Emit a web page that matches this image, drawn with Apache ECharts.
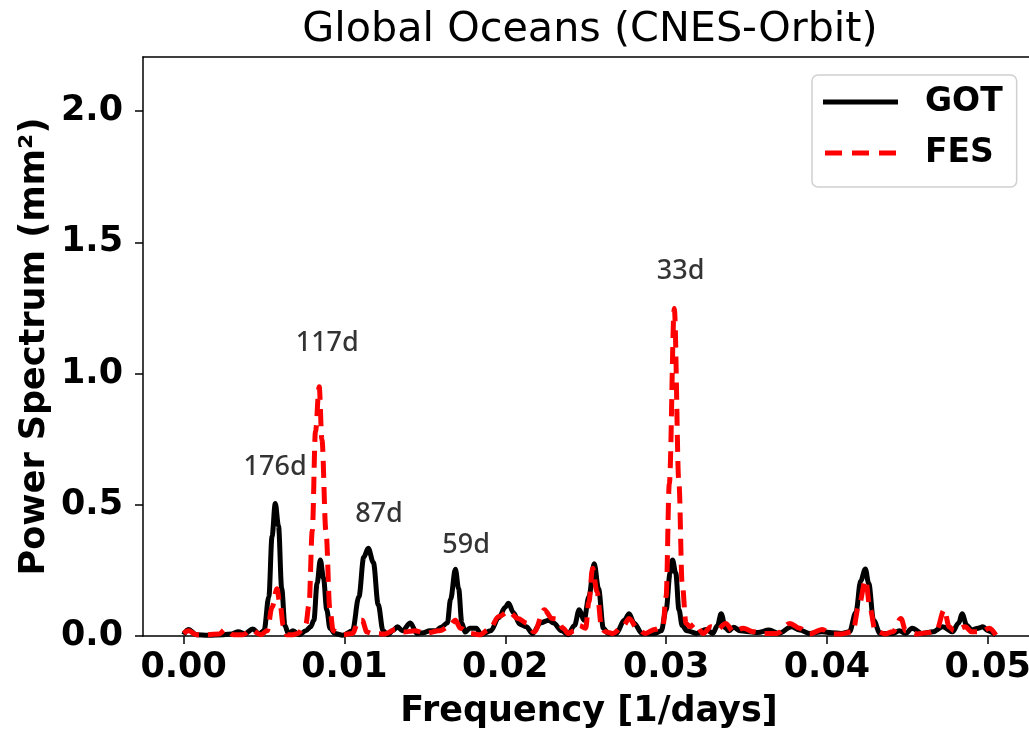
<!DOCTYPE html>
<html>
<head>
<meta charset="utf-8">
<script src="https://cdn.jsdelivr.net/npm/echarts@6/dist/echarts.min.js"></script>
<style>
html,body{margin:0;padding:0;background:#fff;}
#c{width:1029px;height:734px;}
</style>
</head>
<body>
<div id="c"></div>
<script>
// ---- data (frequency [1/days], power spectrum [mm^2]) ----
const gotFreq = [0.0000,0.0003,0.0008,0.0015,0.0025,0.0030,0.0034,0.0038,0.0043,0.0047,0.0050,0.0053,0.0055,0.0057,0.0059,0.0061,0.0063,0.0065,0.0068,0.0072,0.0076,0.0079,0.0081,0.0083,0.0085,0.0087,0.0089,0.0091,0.0094,0.0099,0.0105,0.0109,0.0112,0.01148,0.0118,0.0121,0.0124,0.0127,0.0130,0.0133,0.0136,0.0141,0.0145,0.0149,0.0153,0.0157,0.0160,0.0164,0.0166,0.0169,0.0171,0.0173,0.0175,0.0178,0.0182,0.0185,0.0191,0.0196,0.0200,0.0202,0.0205,0.0209,0.0213,0.0217,0.0222,0.0227,0.0230,0.0235,0.0239,0.0243,0.0246,0.0249,0.0252,0.02553,0.0258,0.0261,0.0264,0.0269,0.0274,0.0277,0.0280,0.0285,0.0293,0.0297,0.0300,0.03025,0.0304,0.0306,0.0308,0.0310,0.0313,0.0319,0.0325,0.0329,0.0332,0.03342,0.0337,0.0339,0.0342,0.0346,0.0350,0.0357,0.0364,0.0370,0.0378,0.0383,0.0389,0.0397,0.0403,0.0409,0.0414,0.0418,0.0421,0.04239,0.0426,0.0429,0.0433,0.0441,0.0445,0.0449,0.0453,0.0459,0.0466,0.0472,0.0478,0.0482,0.0484,0.0487,0.0490,0.0494,0.0497,0.0500,0.0505];
const gotPower = [0.005,0.025,0.005,0.003,0.005,0.008,0.016,0.008,0.027,0.008,0.02,0.15,0.38,0.505,0.42,0.18,0.04,0.01,0.02,0.005,0.02,0.035,0.06,0.2,0.29,0.22,0.10,0.03,0.01,0.003,0.02,0.15,0.30,0.334,0.28,0.12,0.02,0.005,0.02,0.035,0.02,0.05,0.01,0.012,0.02,0.02,0.033,0.05,0.14,0.254,0.18,0.05,0.015,0.03,0.03,0.005,0.02,0.07,0.11,0.125,0.09,0.045,0.035,0.01,0.05,0.06,0.05,0.02,0.005,0.04,0.1,0.06,0.15,0.275,0.18,0.03,0.01,0.01,0.06,0.085,0.05,0.01,0.01,0.02,0.1,0.24,0.29,0.24,0.1,0.04,0.02,0.01,0.025,0.01,0.04,0.085,0.03,0.02,0.033,0.02,0.017,0.013,0.023,0.01,0.035,0.023,0.01,0.016,0.012,0.01,0.016,0.09,0.21,0.255,0.2,0.06,0.01,0.01,0.02,0.01,0.03,0.01,0.016,0.035,0.016,0.05,0.085,0.04,0.023,0.03,0.035,0.02,0.004];

const fesFreq = [0.0000,0.0003,0.0008,0.0015,0.0022,0.0026,0.0031,0.0037,0.0042,0.0048,0.0052,0.0055,0.0058,0.0060,0.0062,0.0064,0.0068,0.0071,0.0076,0.0078,0.0080,0.0082,0.00843,0.0086,0.00885,0.0091,0.0093,0.0099,0.0105,0.0109,0.0111,0.0114,0.0117,0.0125,0.0132,0.0137,0.0144,0.0150,0.0159,0.0165,0.0169,0.0172,0.0178,0.0184,0.0190,0.0196,0.0202,0.0208,0.0213,0.0218,0.02243,0.0229,0.0232,0.0236,0.0239,0.0243,0.0246,0.0250,0.0252,0.02543,0.0257,0.0260,0.0262,0.0267,0.0273,0.0277,0.0282,0.0287,0.0293,0.0298,0.0300,0.0302,0.03051,0.0308,0.0310,0.03124,0.0315,0.0318,0.0323,0.0328,0.0332,0.0337,0.0342,0.0348,0.0354,0.0361,0.0369,0.0377,0.0383,0.0389,0.0397,0.0403,0.0409,0.0416,0.0420,0.0424,0.0427,0.0430,0.0436,0.0441,0.0446,0.0449,0.0456,0.0462,0.0468,0.0473,0.0476,0.0479,0.0486,0.0490,0.0496,0.0501,0.0505];
const fesPower = [0.01,0.02,0.005,0.005,0.008,0.025,0.005,0.005,0.023,0.005,0.02,0.11,0.18,0.12,0.04,0.005,0.005,0.01,0.045,0.12,0.40,0.78,0.95,0.75,0.40,0.1,0.02,0.005,0.01,0.06,0.06,0.015,0.01,0.008,0.025,0.015,0.02,0.01,0.02,0.035,0.06,0.03,0.01,0.005,0.025,0.074,0.093,0.067,0.05,0.016,0.10,0.067,0.065,0.03,0.01,0.02,0.04,0.03,0.13,0.258,0.17,0.03,0.016,0.01,0.035,0.067,0.03,0.01,0.025,0.035,0.15,0.58,1.248,0.58,0.2,0.048,0.035,0.048,0.01,0.035,0.025,0.048,0.016,0.03,0.016,0.01,0.01,0.048,0.03,0.008,0.025,0.008,0.008,0.016,0.12,0.213,0.1,0.02,0.008,0.016,0.067,0.02,0.008,0.012,0.02,0.1,0.035,0.02,0.035,0.016,0.016,0.03,0.004];

const annText = ['176d','117d','87d','59d','33d'];
const annFreq = [0.00569,0.00893,0.01215,0.01757,0.0309];
const annPower = [0.644,1.116,0.463,0.347,1.39];

const xTicks = [0.00,0.01,0.02,0.03,0.04,0.05];
const yTicks = [0.0,0.5,1.0,1.5,2.0];
const xAxisTitle = 'Frequency [1/days]';

const zip = (a,b) => a.map((v,i) => [v,b[i]]);
const FONT = 'DejaVu Sans';
const AXFS = 35;

const chart = echarts.init(document.getElementById('c'), null, {renderer:'canvas'});
chart.setOption({
  animation:false,
  backgroundColor:'#fff',
  title:{
    text:'Global Oceans (CNES-Orbit)',
    left:585, top:5, textAlign:'center',
    textStyle:{fontFamily:FONT, fontWeight:'normal', fontSize:41.3, color:'#000'}
  },
  grid:{left:143, top:57, right:-7, bottom:98, show:false, outerBoundsMode:'none', containLabel:false},
  graphic:[{
    type:'text', x:589, y:712, silent:true,
    style:{text:xAxisTitle, align:'center', verticalAlign:'middle', fontFamily:FONT, fontWeight:'bold', fontSize:AXFS, fill:'#000'}
  }],
  legend:{
    data:[
      {name:'GOT', icon:'path://M0,0H75V5H0Z'},
      {name:'FES', icon:'path://M0,0H17V5H0Z M27,0H44V5H27Z M54,0H71V5H54Z'}
    ],
    orient:'vertical',
    left:812, top:75,
    padding:[7,14,14,11],
    itemGap:11,
    itemWidth:75, itemHeight:5,
    backgroundColor:'#fff',
    borderColor:'#d0d0d0', borderWidth:1.5, borderRadius:6,
    textStyle:{fontFamily:FONT, fontWeight:'bold', fontSize:33, color:'#000', lineHeight:40, padding:[0,0,0,22]}
  },
  xAxis:[{
    type:'value', min:-0.002525, max:0.053,
    axisLine:{show:true, onZero:false, lineStyle:{color:'#000', width:1.5}},
    axisTick:{show:true, length:8, customValues:xTicks, lineStyle:{color:'#000', width:1.5}},
    axisLabel:{customValues:xTicks, margin:14, formatter:v => v.toFixed(2), fontFamily:FONT, fontWeight:'bold', fontSize:AXFS, color:'#000'},
    splitLine:{show:false}
  },{
    type:'value', position:'top', min:-0.002525, max:0.053,
    axisLine:{show:true, onZero:false, lineStyle:{color:'#000', width:1.5}},
    axisTick:{show:false}, axisLabel:{show:false}, splitLine:{show:false}
  }],
  yAxis:{
    type:'value', min:0, max:2.206,
    name:'Power Spectrum (mm²)', nameLocation:'middle', nameGap:91, nameMoveOverlap:false,
    nameTextStyle:{fontFamily:FONT, fontWeight:'bold', fontSize:AXFS, color:'#000'},
    axisLine:{show:true, onZero:false, lineStyle:{color:'#000', width:1.5}},
    axisTick:{show:true, length:8, customValues:yTicks, lineStyle:{color:'#000', width:1.5}},
    axisLabel:{customValues:yTicks, margin:20, formatter:v => v.toFixed(1), fontFamily:FONT, fontWeight:'bold', fontSize:AXFS, color:'#000'},
    splitLine:{show:false}
  },
  series:[
    {
      name:'GOT', type:'line', data:zip(gotFreq,gotPower),
      symbol:'none', smooth:0.35, smoothMonotone:'x',
      lineStyle:{color:'#000', width:5}, itemStyle:{color:'#000'}, z:2
    },
    {
      name:'FES', type:'line', data:zip(fesFreq,fesPower),
      symbol:'none', smooth:0.35, smoothMonotone:'x',
      lineStyle:{color:'#ff0000', width:5, type:[17,9]}, itemStyle:{color:'#ff0000'}, z:3
    },
    {
      name:'labels', type:'scatter', symbolSize:0, silent:true, z:4,
      itemStyle:{color:'#000'},
      data:annText.map((t,i) => ({value:[annFreq[i], annPower[i]], name:t})),
      label:{show:true, position:'inside', formatter:p => p.name, fontFamily:'Noto Sans', fontWeight:500, fontSize:27, color:'#000', textBorderWidth:0}
    }
  ]
});
</script>
</body>
</html>
